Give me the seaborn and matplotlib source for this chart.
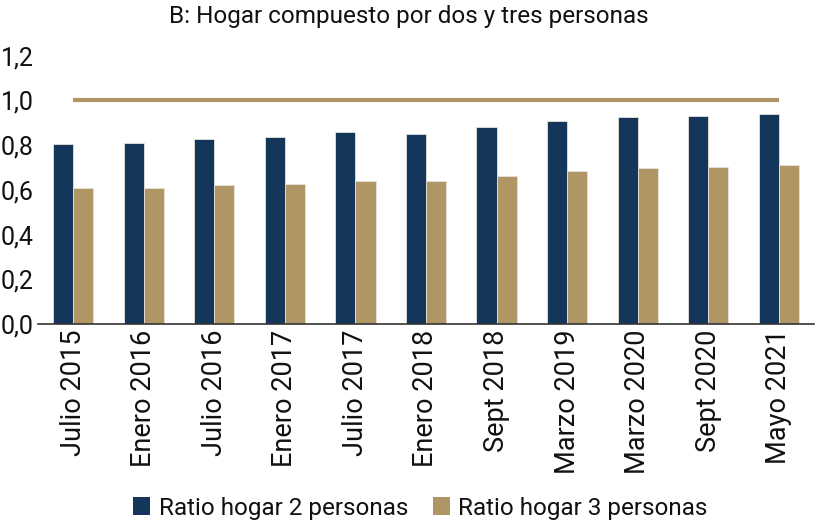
import matplotlib
matplotlib.use("Agg")
import matplotlib.pyplot as plt
import seaborn as sns
import pandas as pd
import numpy as np
from matplotlib.patches import Patch
from matplotlib.ticker import FuncFormatter

categories = ["Julio 2015", "Enero 2016", "Julio 2016", "Enero 2017", "Julio 2017",
              "Enero 2018", "Sept 2018", "Marzo 2019", "Marzo 2020", "Sept 2020", "Mayo 2021"]
ratio_2 = [0.803, 0.811, 0.826, 0.837, 0.858, 0.851, 0.879, 0.906, 0.925, 0.931, 0.940]
ratio_3 = [0.608, 0.608, 0.620, 0.627, 0.641, 0.641, 0.662, 0.682, 0.696, 0.702, 0.709]
reference = [1.0] * len(categories)
series_names = ["Ratio hogar 2 personas", "Ratio hogar 3 personas"]
title = "B: Hogar compuesto por dos y tres personas"

navy = "#14365a"
gold = "#b09664"

sns.set_style("white")
plt.rcParams['font.family'] = ['Roboto', 'DejaVu Sans']

df = pd.DataFrame({
    "cat": categories * 2,
    "val": ratio_2 + ratio_3,
    "serie": [series_names[0]] * len(categories) + [series_names[1]] * len(categories),
})

fig = plt.figure(figsize=(8.17, 5.24), dpi=100)
ax = fig.add_axes([38 / 817, 1 - 324 / 524, (814 - 38) / 817, (324 - 55.6) / 524])

sns.barplot(data=df, x="cat", y="val", hue="serie", palette=[navy, gold], saturation=1,
            width=0.57, ax=ax, legend=False, edgecolor="#e6e2da", linewidth=0.6)
ax.plot(np.arange(len(categories)), reference, color=gold, linewidth=3.0, solid_capstyle="butt")

ax.set_ylim(0, 1.2)
ax.set_xlim(-0.5, len(categories) - 0.5)
ax.set_yticks(np.arange(0, 1.21, 0.2))
ax.yaxis.set_major_formatter(FuncFormatter(lambda v, p: f"{v:.1f}".replace(".", ",")))
ax.set_xlabel("")
ax.set_ylabel("")
ax.tick_params(axis="x", labelrotation=90, labelsize=19.5, length=0, pad=4, labelcolor="#111111")
ax.tick_params(axis="y", labelsize=18, length=0, pad=3, labelcolor="#111111")
for s in ["top", "right", "left"]:
    ax.spines[s].set_visible(False)
ax.spines["bottom"].set_color("#333333")
ax.spines["bottom"].set_linewidth(1.2)

fig.text(0.5, 1 - 16 / 524, title, ha="center", va="center", fontsize=17.5, color="#111111")

handles = [Patch(facecolor=navy, edgecolor="none"), Patch(facecolor=gold, edgecolor="none")]
fig.legend(handles, series_names, loc="center", bbox_to_anchor=(0.5 + 12 / 817, 1 - 508 / 524), ncol=2,
           frameon=False, fontsize=17.5, handlelength=0.7, handleheight=0.7, handletextpad=0.35,
           columnspacing=1.0, labelcolor="#111111")

fig.savefig("out.png", dpi=100)
